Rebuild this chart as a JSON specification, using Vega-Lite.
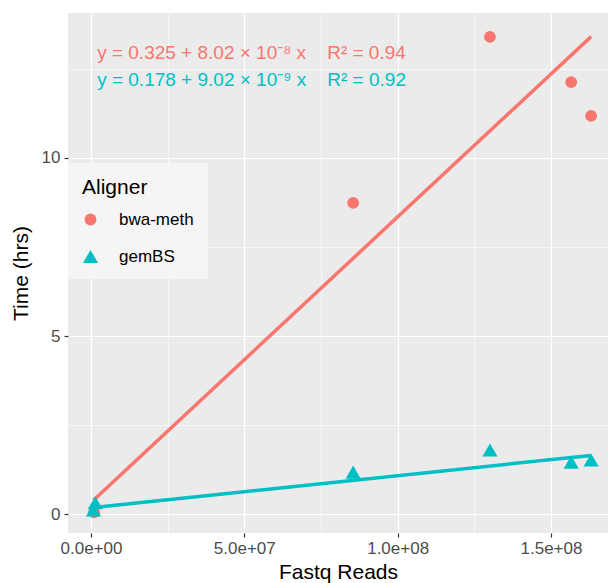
{
  "$schema": "https://vega.github.io/schema/vega-lite/v6.json",
  "autosize": {"type": "none"},
  "padding": {"left": 68, "top": 13, "right": 0, "bottom": 50},
  "width": 540,
  "height": 520,
  "background": "white",
  "config": {
    "view": {"fill": "#EBEBEB", "stroke": null},
    "font": "Liberation Sans"
  },
  "datasets": {
    "points": [
      {"reads": 1000000, "time": 0.05, "Aligner": "bwa-meth"},
      {"reads": 85500000, "time": 8.74, "Aligner": "bwa-meth"},
      {"reads": 130100000, "time": 13.4, "Aligner": "bwa-meth"},
      {"reads": 156600000, "time": 12.13, "Aligner": "bwa-meth"},
      {"reads": 163100000, "time": 11.18, "Aligner": "bwa-meth"},
      {"reads": 800000, "time": 0.12, "Aligner": "gemBS"},
      {"reads": 1400000, "time": 0.32, "Aligner": "gemBS"},
      {"reads": 85500000, "time": 1.18, "Aligner": "gemBS"},
      {"reads": 130100000, "time": 1.8, "Aligner": "gemBS"},
      {"reads": 156600000, "time": 1.46, "Aligner": "gemBS"},
      {"reads": 163100000, "time": 1.52, "Aligner": "gemBS"}
    ],
    "fits": [
      {"reads": 800000, "time": 0.389, "Aligner": "bwa-meth"},
      {"reads": 163100000, "time": 13.406, "Aligner": "bwa-meth"},
      {"reads": 800000, "time": 0.185, "Aligner": "gemBS"},
      {"reads": 163100000, "time": 1.649, "Aligner": "gemBS"}
    ],
    "labels": [
      {"reads": 2000000, "time": 12.95, "Aligner": "bwa-meth", "label": "y = 0.325 + 8.02 × 10⁻⁸ x\u00a0\u00a0\u00a0\u00a0R² = 0.94"},
      {"reads": 2000000, "time": 12.2, "Aligner": "gemBS", "label": "y = 0.178 + 9.02 × 10⁻⁹ x\u00a0\u00a0\u00a0\u00a0R² = 0.92"}
    ]
  },
  "encoding": {
    "x": {
      "field": "reads",
      "type": "quantitative",
      "title": "Fastq Reads",
      "scale": {"domain": [-7500000, 168600000], "nice": false, "zero": false},
      "axis": {
        "values": [0, 25000000, 50000000, 75000000, 100000000, 125000000, 150000000],
        "labelExpr": "datum.value % 50000000 === 0 ? replace(format(datum.value, '.1e'), /e([+-])(\\d)$/, 'e$10$2') : ''",
        "grid": true,
        "gridColor": "white",
        "gridWidth": {"condition": {"test": "datum.value % 50000000 === 0", "value": 1.2}, "value": 0.6},
        "domain": false,
        "tickColor": "#333333",
        "tickOpacity": {"condition": {"test": "datum.value % 50000000 === 0", "value": 1}, "value": 0},
        "tickSize": 4,
        "tickWidth": 1.2,
        "labelFontSize": 17,
        "labelColor": "#4D4D4D",
        "labelPadding": 3,
        "titleFontSize": 21,
        "titleFontWeight": "normal",
        "titleColor": "black",
        "titlePadding": 5
      }
    },
    "y": {
      "field": "time",
      "type": "quantitative",
      "title": "Time (hrs)",
      "scale": {"domain": [-0.53, 14.07], "nice": false, "zero": false},
      "axis": {
        "values": [0, 2.5, 5, 7.5, 10, 12.5],
        "labelExpr": "datum.value % 5 === 0 ? datum.label : ''",
        "grid": true,
        "gridColor": "white",
        "gridWidth": {"condition": {"test": "datum.value % 5 === 0", "value": 1.2}, "value": 0.6},
        "domain": false,
        "tickColor": "#333333",
        "tickOpacity": {"condition": {"test": "datum.value % 5 === 0", "value": 1}, "value": 0},
        "tickSize": 4,
        "tickWidth": 1.2,
        "labelFontSize": 17,
        "labelColor": "#4D4D4D",
        "labelPadding": 4,
        "titleFontSize": 21,
        "titleFontWeight": "normal",
        "titleColor": "black",
        "titlePadding": 10
      }
    },
    "color": {
      "field": "Aligner",
      "type": "nominal",
      "scale": {"domain": ["bwa-meth", "gemBS"], "range": ["#F8766D", "#00BFC4"]},
      "legend": {
        "orient": "none",
        "legendX": 0,
        "legendY": 150,
        "fillColor": "#F5F5F5",
        "padding": 14,
        "titleFontSize": 21,
        "titleFontWeight": "normal",
        "titleColor": "black",
        "titlePadding": 13,
        "labelFontSize": 17,
        "labelColor": "black",
        "symbolStrokeWidth": 0,
        "rowPadding": 19,
        "labelOffset": 20
      }
    }
  },
  "layer": [
    {
      "data": {"name": "fits"},
      "mark": {"type": "line", "strokeWidth": 3.5},
      "encoding": {"detail": {"field": "Aligner"}}
    },
    {
      "data": {"name": "points"},
      "mark": {"type": "point", "filled": true, "opacity": 1},
      "encoding": {
        "shape": {
          "field": "Aligner",
          "type": "nominal",
          "scale": {"domain": ["bwa-meth", "gemBS"], "range": ["circle", "triangle-up"]},
          "legend": null
        },
        "size": {
          "field": "Aligner",
          "type": "nominal",
          "scale": {"domain": ["bwa-meth", "gemBS"], "range": [140, 230]},
          "legend": null
        }
      }
    },
    {
      "data": {"name": "labels"},
      "mark": {"type": "text", "align": "left", "baseline": "middle", "fontSize": 19},
      "encoding": {"text": {"field": "label"}}
    }
  ]
}
